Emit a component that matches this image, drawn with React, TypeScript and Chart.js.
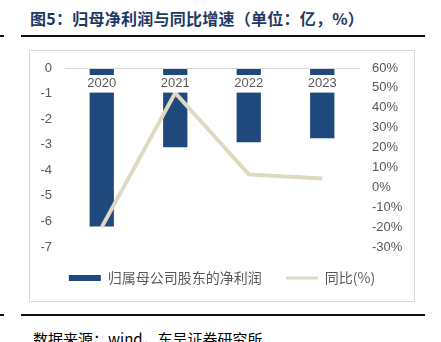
import React, { useEffect, useRef } from "react";
import { Chart, registerables } from "chart.js";

Chart.register(...registerables);

const categories = ["2020", "2021", "2022", "2023"];
const netProfit = [-6.2, -3.1, -2.9, -2.75];
const yoyGrowth = [-20, 47.5, 6.5, 4.5];
const leftAxisRange = { min: -7, max: 0, step: 1 };
const rightAxisRange = { min: -30, max: 60, step: 10 };
const seriesNames = ["归属母公司股东的净利润", "同比(%)"];

const BAR_COLOR = "#1F497D";
const LINE_COLOR = "#DDD9C3";
const TICK_COLOR = "#595959";
const NUM_FONT = "'Liberation Sans', Arial, sans-serif";
const CJK_FONT = "'Noto Sans CJK SC', 'Liberation Sans', sans-serif";

function ChartCanvas() {
  const ref = useRef<HTMLCanvasElement | null>(null);
  useEffect(() => {
    if (!ref.current) return;
    const fixV = (w: number) => (s: any) => {
      s.width = w;
      s.paddingTop = 0;
      s.paddingBottom = 0;
    };
    const chart = new Chart(ref.current, {
      type: "bar",
      data: {
        labels: categories,
        datasets: [
          {
            type: "line",
            label: seriesNames[1],
            data: yoyGrowth,
            yAxisID: "y1",
            borderColor: LINE_COLOR,
            backgroundColor: LINE_COLOR,
            borderWidth: 4,
            pointRadius: 0,
            tension: 0,
            order: 0,
          },
          {
            type: "bar",
            label: seriesNames[0],
            data: netProfit,
            yAxisID: "y",
            backgroundColor: BAR_COLOR,
            borderWidth: 0,
            barPercentage: 0.33,
            categoryPercentage: 1,
            order: 1,
          },
        ],
      },
      options: {
        responsive: false,
        animation: false,
        layout: { padding: { top: 17, bottom: 6, left: 0, right: 0 } },
        plugins: {
          tooltip: { enabled: false },
          legend: {
            position: "bottom",
            labels: {
              usePointStyle: true,
              pointStyleWidth: 32,
              boxHeight: 6,
              padding: 24,
              color: TICK_COLOR,
              font: { family: CJK_FONT, size: 14 },
              generateLabels: () => [
                {
                  text: seriesNames[0],
                  fillStyle: BAR_COLOR,
                  strokeStyle: BAR_COLOR,
                  lineWidth: 0,
                  pointStyle: "rect",
                  datasetIndex: 1,
                  fontColor: TICK_COLOR,
                },
                {
                  text: seriesNames[1],
                  fillStyle: LINE_COLOR,
                  strokeStyle: LINE_COLOR,
                  lineWidth: 3,
                  pointStyle: "line",
                  datasetIndex: 0,
                  fontColor: TICK_COLOR,
                },
              ],
            },
          },
        },
        scales: {
          x: {
            type: "category",
            position: { y: 0 } as any,
            offset: true,
            grid: { display: false, drawTicks: false },
            border: { display: true, color: "#D9D9D9", width: 1, z: 1 },
            ticks: {
              z: 1,
              padding: 8,
              color: TICK_COLOR,
              font: { family: NUM_FONT, size: 13 },
              showLabelBackdrop: true,
              backdropColor: "#FFFFFF",
              backdropPadding: { top: 1, bottom: 1, left: 2, right: 2 },
              maxRotation: 0,
            },
          },
          y: {
            type: "linear",
            position: "left",
            min: leftAxisRange.min,
            max: leftAxisRange.max,
            grid: { display: false, drawTicks: false },
            border: { display: false },
            ticks: {
              stepSize: leftAxisRange.step,
              padding: 13,
              color: TICK_COLOR,
              font: { family: NUM_FONT, size: 13 },
              callback: (v: any) => String(v),
            },
            afterFit: fixV(35),
          },
          y1: {
            type: "linear",
            position: "right",
            min: rightAxisRange.min,
            max: rightAxisRange.max,
            grid: { display: false, drawTicks: false },
            border: { display: false },
            ticks: {
              stepSize: rightAxisRange.step,
              padding: 13,
              color: TICK_COLOR,
              font: { family: NUM_FONT, size: 13 },
              callback: (v: any) => v + "%",
            },
            afterFit: fixV(55),
          },
        },
      },
    } as any);
    return () => chart.destroy();
  }, []);
  return <canvas ref={ref} width={384} height={250} style={{ display: "block", width: 384, height: 250 }} />;
}

export default function App() {
  const rule = (top: number, left: number, width: number) => (
    <div style={{ position: "absolute", top, left, width, height: 2, background: "#111" }} />
  );
  return (
    <div style={{ position: "fixed", left: 0, top: 0, width: 441, height: 342, background: "#fff", overflow: "hidden" }}>
      <div
        style={{
          position: "absolute",
          left: 30,
          top: 9,
          fontFamily: CJK_FONT,
          fontSize: 16,
          lineHeight: "18px",
          fontWeight: 700,
          letterSpacing: "0.25px",
          color: "#1F3864",
          whiteSpace: "nowrap",
        }}
      >
        图5：归母净利润与同比增速（单位：亿，%）
      </div>
      {rule(35, 0, 4)}
      {rule(35, 21, 404)}
      <div
        style={{
          position: "absolute",
          left: 29,
          top: 50,
          width: 386,
          height: 252,
          boxSizing: "border-box",
          border: "1px solid #D9D9D9",
        }}
      >
        <ChartCanvas />
      </div>
      {rule(314, 0, 4)}
      {rule(314, 21, 404)}
      <div
        style={{
          position: "absolute",
          left: 33,
          top: 331,
          fontFamily: CJK_FONT,
          fontSize: 15,
          lineHeight: "15px",
          color: "#000",
          whiteSpace: "nowrap",
        }}
      >
        数据来源：wind，东吴证券研究所
      </div>
    </div>
  );
}
